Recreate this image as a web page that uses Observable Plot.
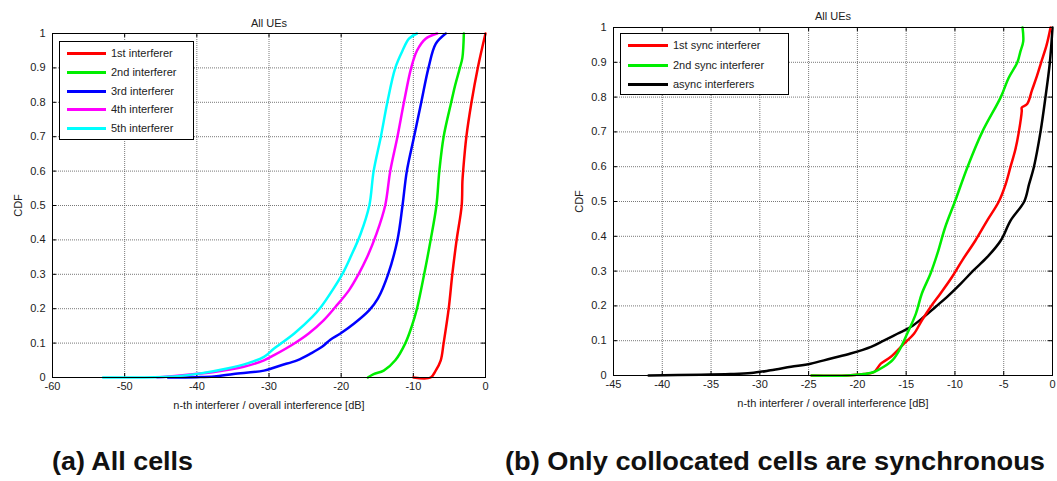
<!DOCTYPE html>
<html><head><meta charset="utf-8">
<script src="https://cdn.jsdelivr.net/npm/d3@7"></script>
<script src="https://cdn.jsdelivr.net/npm/@observablehq/plot@0.6"></script>
<style>
body{margin:0;background:#fff;font-family:"Liberation Sans",Arial,sans-serif;}
#wrap{position:relative;width:1057px;height:481px;overflow:hidden;background:#fff;}
.panel{position:absolute;top:0;}
.legend{position:absolute;border:1px solid #000;background:#fff;font-size:11px;color:#222;box-sizing:border-box;}
.legend .row{position:absolute;left:0;right:0;height:14px;}
.legend .sw{position:absolute;height:3px;top:6px;}
.legend .lb{position:absolute;top:0;line-height:14px;white-space:nowrap;}
#caps{position:absolute;left:0;top:0;}
</style></head>
<body><div id="wrap"></div>
<script>
// ---------- Data: panel (a) All cells ----------
const xTicksA = [-60, -50, -40, -30, -20, -10, 0];
const xTicksB = [-45, -40, -35, -30, -25, -20, -15, -10, -5, 0];
const yTicks = [0, 0.1, 0.2, 0.3, 0.4, 0.5, 0.6, 0.7, 0.8, 0.9, 1];

const namesA = ["1st interferer", "2nd interferer", "3rd interferer", "4th interferer", "5th interferer"];
const colorsA = ["#ff0000", "#00ee00", "#0000ff", "#ff00ff", "#00ffff"];

const a1X = [-10, -7.6, -6.9, -6.2, -5.8, -5.1, -4.6, -4.0, -3.3, -3.2, -3.1, -2.65, -1.94, -1.07, 0];
const a1P = [0, 0, 0.02, 0.05, 0.1, 0.2, 0.3, 0.4, 0.5, 0.57, 0.6, 0.7, 0.8, 0.9, 1];

const a2X = [-16.3, -15.5, -14.1, -12.5, -11.1, -10.2, -9.5, -8.5, -7.6, -6.8, -6.4, -5.8, -4.75, -4.2, -3.55, -3.2, -3.0];
const a2P = [0, 0.01, 0.02, 0.05, 0.1, 0.15, 0.2, 0.3, 0.4, 0.5, 0.6, 0.7, 0.8, 0.85, 0.9, 0.93, 1];

const a3X = [-44, -40, -37.6, -34.9, -30.7, -28.4, -26.1, -24.2, -22.6, -21.5, -20.1, -18.2, -16.1, -14.9, -13.5, -12.2, -11.5, -10.9, -9.9, -8.9, -7.9, -6.9, -5.5];
const a3P = [0, 0.001, 0.003, 0.01, 0.02, 0.035, 0.05, 0.07, 0.09, 0.11, 0.128, 0.157, 0.196, 0.23, 0.3, 0.4, 0.5, 0.6, 0.7, 0.8, 0.9, 0.97, 1];

const a4X = [-45.5, -41.3, -37.6, -33.5, -30.7, -29.3, -26.5, -24.5, -22.4, -20.8, -18.9, -17.6, -16.4, -15.1, -13.9, -13.2, -12.2, -11.3, -10.3, -9.5, -8.3, -6.7];
const a4P = [0, 0.008, 0.016, 0.031, 0.05, 0.065, 0.099, 0.128, 0.167, 0.205, 0.254, 0.3, 0.35, 0.418, 0.5, 0.6, 0.7, 0.8, 0.9, 0.95, 0.985, 1];

const a5X = [-53, -44.1, -39.5, -35.8, -33.0, -30.7, -29.3, -26.5, -24.0, -22.8, -21.2, -19.8, -18.7, -17.3, -16.1, -15.5, -14.5, -13.6, -12.5, -11.5, -10.6, -9.5];
const a5P = [0, 0.002, 0.012, 0.026, 0.041, 0.06, 0.084, 0.128, 0.176, 0.205, 0.254, 0.302, 0.35, 0.418, 0.5, 0.6, 0.7, 0.8, 0.9, 0.95, 0.985, 1];

// ---------- Data: panel (b) Only collocated cells are synchronous ----------
const namesB = ["1st sync interferer", "2nd sync interferer", "async interferers"];
const colorsB = ["#ff0000", "#00ee00", "#000000"];

const b1X = [-24.7, -21, -19.3, -18.3, -17.6, -16.6, -15.2, -14.2, -13.4, -12.5, -11.5, -10.3, -9.25, -7.9, -6.7, -5.5, -4.8, -4.3, -3.8, -3.45, -3.15, -3.15, -2.6, -2.1, -1.6, -1.16, -0.6, -0.2];
const b1P = [0, 0, 0.004, 0.01, 0.034, 0.053, 0.092, 0.12, 0.158, 0.197, 0.235, 0.283, 0.331, 0.388, 0.445, 0.5, 0.55, 0.6, 0.65, 0.7, 0.76, 0.77, 0.78, 0.82, 0.86, 0.9, 0.95, 1];

const b2X = [-24.7, -21.0, -19.3, -18.3, -17.3, -16.4, -15.7, -14.9, -14.0, -13.4, -12.5, -11.8, -11.0, -10.0, -8.7, -7.2, -5.3, -4.5, -3.6, -3.3, -3.0, -3.07];
const b2P = [0, 0, 0.004, 0.01, 0.025, 0.044, 0.073, 0.12, 0.178, 0.235, 0.293, 0.35, 0.426, 0.5, 0.6, 0.7, 0.8, 0.855, 0.9, 0.93, 0.96, 1];

const b3X = [-41.4, -33.0, -30.9, -28.9, -26.8, -24.8, -22.7, -20.7, -18.6, -17.3, -15.9, -14.5, -13.2, -12.0, -10.8, -9.4, -8.1, -6.7, -5.3, -4.3, -2.9, -2.4, -1.9, -1.23, -0.72, -0.27, 0];
const b3P = [0, 0.004, 0.007, 0.015, 0.025, 0.034, 0.049, 0.063, 0.082, 0.1, 0.12, 0.14, 0.168, 0.197, 0.226, 0.264, 0.302, 0.34, 0.388, 0.445, 0.5, 0.55, 0.6, 0.7, 0.8, 0.9, 1];

const xLabel = "n-th interferer / overall interference [dB]";
const yLabel = "CDF";
const titleText = "All UEs";
const captionA = "(a) All cells";
const captionB = "(b) Only collocated cells are synchronous";

// ---------- helpers ----------
const rows = (xs, ps) => xs.map((x, i) => ({x, p: ps[i]}));
const fmtY = d => String(+d.toFixed(1));
const fmtX = d => String(d);
const font = "'Liberation Sans', Arial, sans-serif";
const gridStyle = {stroke: "#555", strokeOpacity: 1, strokeDasharray: "1,1", strokeWidth: 0.8};

function panel({width, ml, mr, mt, mb, xDomain, xTicks, series, colors, titleDy}) {
  const fw = width - ml - mr, fh = 420 - mt - mb;
  return Plot.plot({
    width, height: 420,
    marginLeft: ml, marginRight: mr, marginTop: mt, marginBottom: mb,
    style: {fontFamily: font, fontSize: "11px", color: "#222", background: "transparent", overflow: "visible"},
    x: {domain: xDomain},
    y: {domain: [0, 1]},
    marks: [
      Plot.gridX(xTicks, gridStyle),
      Plot.gridY(yTicks, gridStyle),
      Plot.tickX(xTicks, {x: d => d, stroke: "#000", insetTop: fh - 4}),
      Plot.tickX(xTicks, {x: d => d, stroke: "#000", insetBottom: fh - 4}),
      Plot.tickY(yTicks, {y: d => d, stroke: "#000", insetRight: fw - 4}),
      Plot.tickY(yTicks, {y: d => d, stroke: "#000", insetLeft: fw - 4}),
      Plot.axisX(xTicks, {tickSize: 0, tickPadding: 5, tickFormat: fmtX, label: xLabel, labelAnchor: "center", labelOffset: 31, labelArrow: "none", fill: "#222"}),
      Plot.axisY(yTicks, {tickSize: 0, tickPadding: 7, tickFormat: fmtY, label: yLabel, labelAnchor: "center", labelOffset: 38, labelArrow: "none", fill: "#222"}),
      ...series.map((s, i) => Plot.line(s, {x: "x", y: "p", stroke: colors[i], strokeWidth: 2.5, curve: "catmull-rom"})),
      Plot.frame({stroke: "#000", strokeWidth: 1}),
      Plot.text([titleText], {text: d => d, frameAnchor: "top", dy: titleDy, fontSize: 11, fill: "#222"})
    ]
  });
}

const wrap = document.getElementById("wrap");

const pA = panel({width: 500, ml: 52, mr: 15, mt: 33, mb: 43, xDomain: [-60, 0], xTicks: xTicksA,
  series: [rows(a1X, a1P), rows(a2X, a2P), rows(a3X, a3P), rows(a4X, a4P), rows(a5X, a5P)],
  colors: colorsA, titleDy: -14});
pA.classList.add("panel"); pA.style.left = "0px";
wrap.appendChild(pA);

const pB = panel({width: 527, ml: 83, mr: 5, mt: 27, mb: 45, xDomain: [-45, 0], xTicks: xTicksB,
  series: [rows(b3X, b3P), rows(b1X, b1P), rows(b2X, b2P)],
  colors: [colorsB[2], colorsB[0], colorsB[1]], titleDy: -15});
pB.classList.add("panel"); pB.style.left = "530px";
wrap.appendChild(pB);

// ---------- legends ----------
function legend(names, colors, box, rowYs, lineX0, lineX1, textX) {
  const L = document.createElement("div");
  L.className = "legend";
  Object.assign(L.style, {left: box[0] + "px", top: box[1] + "px", width: box[2] + "px", height: box[3] + "px"});
  names.forEach((n, i) => {
    const r = document.createElement("div");
    r.className = "row"; r.style.top = (rowYs[i] - 7) + "px";
    const sw = document.createElement("div");
    sw.className = "sw";
    Object.assign(sw.style, {left: lineX0 + "px", width: (lineX1 - lineX0) + "px", background: colors[i]});
    const lb = document.createElement("div");
    lb.className = "lb"; lb.style.left = textX + "px"; lb.textContent = n;
    r.appendChild(sw); r.appendChild(lb); L.appendChild(r);
  });
  wrap.appendChild(L);
}
legend(namesA, colorsA, [59, 41, 135, 99], [11, 30, 48.5, 67, 86], 7, 46, 51);
legend(namesB, colorsB, [620, 33, 169, 62], [11, 30.5, 49.5], 7, 47, 52);

// ---------- captions ----------
const ns = "http://www.w3.org/2000/svg";
const cs = document.createElementNS(ns, "svg");
cs.setAttribute("id", "caps"); cs.setAttribute("width", 1057); cs.setAttribute("height", 481);
[[captionA, 52, 141], [captionB, 505, 540]].forEach(([t, x, w]) => {
  const tx = document.createElementNS(ns, "text");
  tx.setAttribute("x", x); tx.setAttribute("y", 470);
  tx.setAttribute("font-family", font); tx.setAttribute("font-weight", "bold");
  tx.setAttribute("font-size", "26"); tx.setAttribute("fill", "#111");
  tx.setAttribute("textLength", w); tx.setAttribute("lengthAdjust", "spacingAndGlyphs");
  tx.textContent = t;
  cs.appendChild(tx);
});
wrap.appendChild(cs);
</script></body></html>
